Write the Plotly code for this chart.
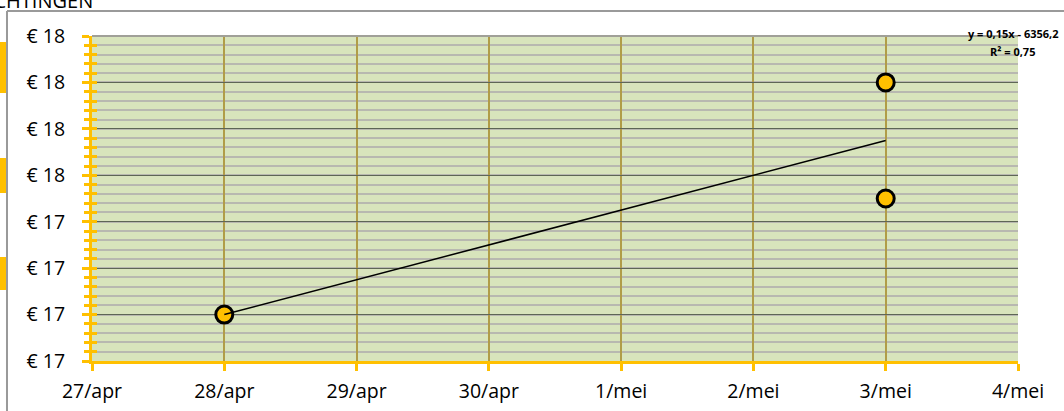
import datetime as dt
import numpy as np
import plotly.graph_objects as go

# ---- data ----
dates = ["2016-04-28", "2016-05-03", "2016-05-03"]
prices = [17.0, 18.0, 17.5]

x_tick_vals = ["2016-04-27", "2016-04-28", "2016-04-29", "2016-04-30",
               "2016-05-01", "2016-05-02", "2016-05-03", "2016-05-04"]
x_tick_text = ["27/apr", "28/apr", "29/apr", "30/apr", "1/mei", "2/mei", "3/mei", "4/mei"]

y_tick_vals = [16.8, 17.0, 17.2, 17.4, 17.6, 17.8, 18.0, 18.2]
y_tick_text = ["€ 17", "€ 17", "€ 17", "€ 17", "€ 18", "€ 18", "€ 18", "€ 18"]

title_text = "VERWACHTINGEN"

# ---- linear trend (Excel serial dates) ----
def serial(d):
    return (dt.date.fromisoformat(d) - dt.date(1899, 12, 30)).days

xs = np.array([serial(d) for d in dates], dtype=float)
ys = np.array(prices)
slope, intercept = np.polyfit(xs, ys, 1)
pred = slope * xs + intercept
r2 = 1 - np.sum((ys - pred) ** 2) / np.sum((ys - ys.mean()) ** 2)
trend_x = [min(dates), max(dates)]
trend_y = [slope * serial(d) + intercept for d in trend_x]

def nl(v, n):
    return f"{abs(v):.{n}f}".replace(".", ",")

eq_text = f"y = {nl(slope, 2)}x {'-' if intercept < 0 else '+'} {nl(intercept, 1)}"
r2_text = f"R² = {nl(r2, 2)}"

YELLOW = "#FFC000"
FONT = "Open Sans"

fig = go.Figure()
fig.add_trace(go.Scatter(
    x=dates, y=prices, mode="markers",
    marker=dict(size=17, color=YELLOW, line=dict(color="black", width=3)),
    hoverinfo="skip", showlegend=False,
))
fig.add_trace(go.Scatter(
    x=trend_x, y=trend_y, mode="lines", yaxis="y2",
    line=dict(color="black", width=1.5),
    hoverinfo="skip", showlegend=False,
))

yrange = [y_tick_vals[0], y_tick_vals[-1]]

fig.update_layout(
    width=1064, height=411,
    margin=dict(l=92, r=46, t=36, b=50),
    paper_bgcolor="white",
    plot_bgcolor="#D8E4BC",
    font=dict(family=FONT, color="black"),
    xaxis=dict(
        type="date",
        range=[x_tick_vals[0], x_tick_vals[-1]],
        tickvals=x_tick_vals, ticktext=x_tick_text,
        tickfont=dict(size=19.5, family=FONT),
        showgrid=True, gridcolor="#B09C48", gridwidth=1.5,
        showline=True, linecolor=YELLOW, linewidth=3,
        ticks="outside", ticklen=7, tickwidth=3, tickcolor=YELLOW,
        ticklabelstandoff=4, automargin=False,
        zeroline=False,
    ),
    yaxis=dict(
        range=yrange,
        tickvals=y_tick_vals, ticktext=y_tick_text,
        tickfont=dict(size=19.5, family=FONT),
        showgrid=True, gridcolor="#5E6656", gridwidth=1,
        showline=True, linecolor=YELLOW, linewidth=3,
        ticks="outside", ticklen=7, tickwidth=3, tickcolor=YELLOW,
        ticklabelstandoff=13, automargin=False,
        minor=dict(dtick=0.04, tick0=16.8, showgrid=True, gridcolor="#B8B8B0",
                   gridwidth=2, ticks="outside", ticklen=5, tickwidth=3,
                   tickcolor=YELLOW),
        zeroline=False,
    ),
    yaxis2=dict(
        range=yrange, overlaying="y", side="left",
        tickvals=y_tick_vals, showticklabels=False,
        showgrid=False, showline=False, zeroline=False, automargin=False,
        ticks="inside", ticklen=5, tickwidth=3, tickcolor=YELLOW,
        minor=dict(dtick=0.04, tick0=16.8, showgrid=False, ticks="inside",
                   ticklen=5, tickwidth=3, tickcolor=YELLOW),
    ),
)

# trendline label
fig.add_annotation(x=0.9946, y=1.0062, xref="paper", yref="paper",
                   text=f"<b>{eq_text}</b>", showarrow=False,
                   xanchor="center", yanchor="middle",
                   font=dict(size=11, family=FONT, color="black"))
fig.add_annotation(x=0.9946, y=0.9538, xref="paper", yref="paper",
                   text=f"<b>{r2_text}</b>", showarrow=False,
                   xanchor="center", yanchor="middle",
                   font=dict(size=11, family=FONT, color="black"))

# cut-off title at the top
fig.add_annotation(x=0.0032, y=1.063, xref="paper", yref="paper",
                   text=title_text, showarrow=False,
                   xanchor="right", yanchor="bottom",
                   font=dict(size=20, family=FONT, color="black"))

# chart frame (grey) and plot top border
fig.add_shape(type="line", xref="paper", yref="paper",
              x0=-0.0918, x1=-0.0918, y0=1.0769, y1=-0.16,
              line=dict(color="#9A9A9A", width=2))
fig.add_shape(type="line", xref="paper", yref="paper",
              x0=-0.0918, x1=1.06, y0=1.0769, y1=1.0769,
              line=dict(color="#9A9A9A", width=2))
fig.add_shape(type="line", xref="paper", yref="paper",
              x0=0, x1=1, y0=1, y1=1,
              line=dict(color="#A0A098", width=2))

# yellow markers at left edge of the sheet
for y0, y1 in [(0.8246, 0.9815), (0.5169, 0.6246), (0.2185, 0.3200)]:
    fig.add_shape(type="rect", xref="paper", yref="paper",
                  x0=-0.1, x1=-0.0929, y0=y0, y1=y1,
                  fillcolor=YELLOW, line=dict(width=0))

fig.write_html("out.html",
               config={"displayModeBar": False},
               post_script="document.body.style.margin='0';document.body.style.overflow='hidden';")
